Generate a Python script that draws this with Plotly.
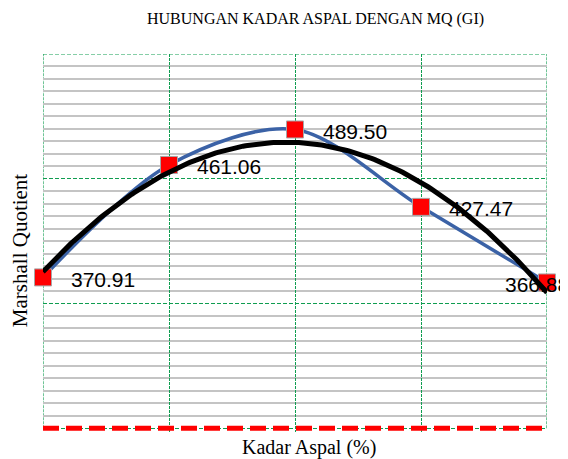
import numpy as np
import plotly.graph_objects as go

# Data
kadar_aspal = [4.5, 5.0, 5.5, 6.0, 6.5]
mq_values = [370.91, 461.06, 489.50, 427.47, 366.88]
mq_labels = ["370.91", "461.06", "489.50", "427.47", "366.88"]
mq_min_spec = 250
title_text = "HUBUNGAN KADAR ASPAL DENGAN MQ (GI)"
x_title = "Kadar Aspal (%)"
y_title = "Marshall Quotient"

# Polynomial (order 2) trendline, as in the spreadsheet chart
coef = np.polyfit(kadar_aspal, mq_values, 2)
xt = np.linspace(min(kadar_aspal), max(kadar_aspal), 200)
yt = np.polyval(coef, xt)

GREEN = "#0f9d50"

fig = go.Figure()

# spec limit line
fig.add_trace(go.Scatter(
    x=[min(kadar_aspal), max(kadar_aspal)], y=[mq_min_spec, mq_min_spec],
    mode="lines", line=dict(color="#ff0000", width=5, dash="16px,7px"),
    hoverinfo="skip", showlegend=False))

# smoothed data line
fig.add_trace(go.Scatter(
    x=kadar_aspal, y=mq_values, mode="lines",
    line=dict(color="#3b62a6", width=3.5, shape="spline", smoothing=0.9),
    showlegend=False))

# markers
fig.add_trace(go.Scatter(
    x=kadar_aspal, y=mq_values, mode="markers",
    marker=dict(symbol="square", size=17, color="#ff0000",
                line=dict(color="#a6a6a6", width=1)),
    cliponaxis=False, showlegend=False))

# trendline
fig.add_trace(go.Scatter(
    x=xt, y=yt, mode="lines", line=dict(color="#000000", width=5),
    showlegend=False))

# data labels
for i, (xv, yv, lab) in enumerate(zip(kadar_aspal, mq_values, mq_labels)):
    shift = 26 if i < len(kadar_aspal) - 1 else -44
    fig.add_annotation(x=xv, y=yv, text=lab, showarrow=False,
                       xanchor="left", yanchor="middle", xshift=shift, yshift=-2,
                       font=dict(family="Liberation Sans, Arial", size=21, color="#000000"))

fig.update_xaxes(range=[4.5, 6.5], dtick=0.5, tick0=4.5,
                 showticklabels=False, ticks="",
                 showgrid=True, gridcolor=GREEN, griddash="3px,1px", gridwidth=1,
                 zeroline=False, showline=False)
fig.update_yaxes(range=[247, 550], dtick=100, tick0=250,
                 showticklabels=False, ticks="",
                 showgrid=True, gridcolor=GREEN, griddash="4px,2px", gridwidth=1.2,
                 minor=dict(dtick=10, tick0=250, showgrid=True, gridcolor="#c4c4c4",
                            gridwidth=1.5, griddash="solid"),
                 zeroline=False, showline=False)

# frame (dashed green border)
fig.add_shape(type="line", xref="x", yref="y", x0=4.5, x1=6.5, y0=550, y1=550,
              line=dict(color=GREEN, width=1.2, dash="4px,2px"), layer="below")
fig.add_shape(type="line", xref="x", yref="y", x0=4.5, x1=4.5, y0=250, y1=550,
              line=dict(color=GREEN, width=1.2, dash="3px,1px"), layer="below")
fig.add_shape(type="line", xref="x", yref="y", x0=6.5, x1=6.5, y0=250, y1=550,
              line=dict(color=GREEN, width=1.2, dash="3px,1px"), layer="below")

fig.add_annotation(text=title_text, xref="paper", yref="paper", x=0.54, y=1.0,
                   yshift=35, showarrow=False, xanchor="center", yanchor="middle",
                   font=dict(family="Liberation Serif, Times New Roman", size=16, color="#000000"))
fig.add_annotation(text=x_title, xref="paper", yref="paper", x=0.528, y=0.0,
                   yshift=-15, showarrow=False, xanchor="center", yanchor="middle",
                   font=dict(family="Liberation Serif, Times New Roman", size=20, color="#000000"))
fig.add_annotation(text=y_title, xref="paper", yref="paper", x=0.0, y=0.481,
                   xshift=-23, showarrow=False, xanchor="center", yanchor="middle",
                   textangle=-90,
                   font=dict(family="Liberation Serif, Times New Roman", size=21, color="#000000"))

# page body has an 8px default margin; size the figure to fit the 568x459 window
fig.update_layout(width=560, height=451,
                  margin=dict(l=35, r=21, t=46, b=27),
                  plot_bgcolor="#ffffff", paper_bgcolor="#ffffff",
                  showlegend=False)

fig.write_html("out.html")
